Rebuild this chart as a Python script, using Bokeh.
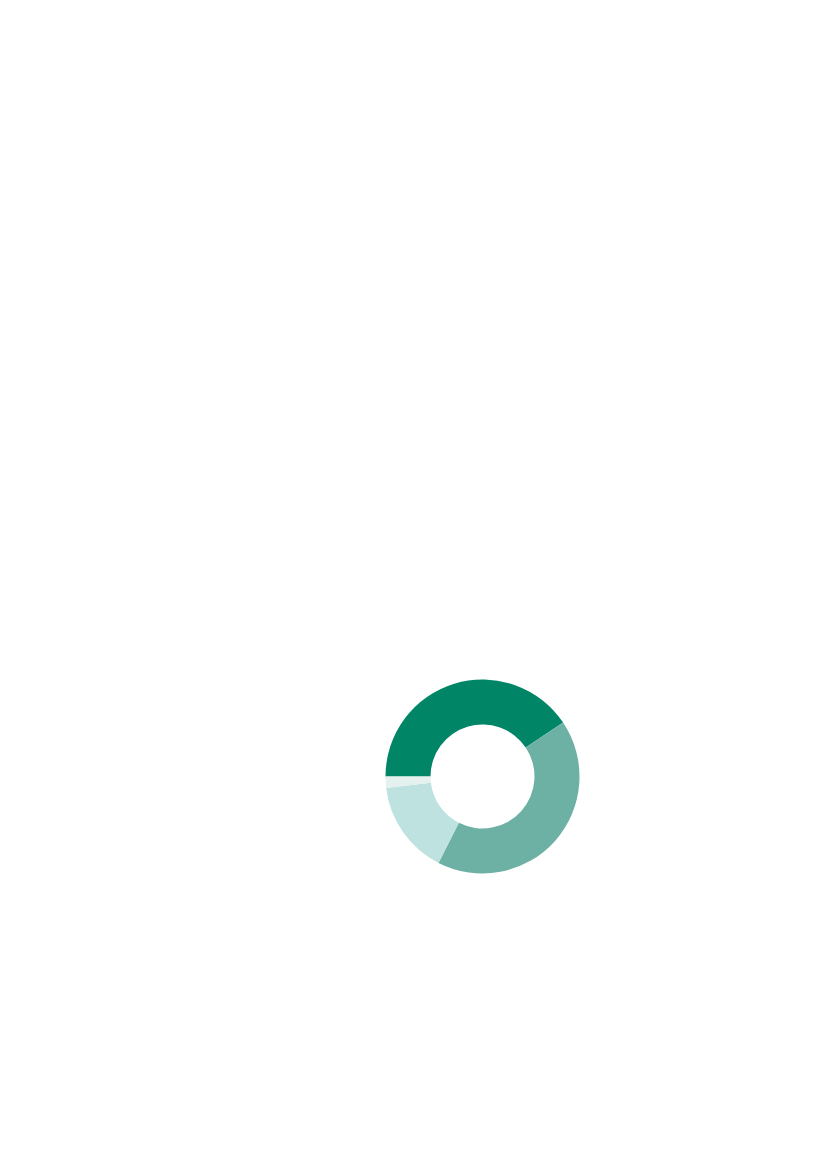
import numpy as np
from bokeh.plotting import figure
from bokeh.models import ColumnDataSource, Range1d
from bokeh.embed import file_html
from bokeh.resources import INLINE

# Data (shares in percent, clockwise from 9 o'clock)
categories = ["Segment 1", "Segment 2", "Segment 3", "Segment 4"]
shares = [40.6, 41.9, 15.6, 1.9]
colors = ["#008566", "#6CB1A4", "#BDE2DF", "#E5F1EE"]

# Layout constants (page pixels)
W, H = 811, 1153
CX, CY_TOP = 482, 776
R_OUT, R_IN = 97, 52

frac = np.array(shares) / sum(shares)
cum = np.concatenate([[0], np.cumsum(frac)])
start = np.pi - cum[:-1] * 2 * np.pi
end = np.pi - cum[1:] * 2 * np.pi

src = ColumnDataSource(dict(cat=categories, start=start, end=end, color=colors,
                            x=[CX] * len(categories), y=[H - CY_TOP] * len(categories)))

p = figure(width=W, height=H, x_range=Range1d(0, W), y_range=Range1d(0, H),
           output_backend="svg", toolbar_location=None, min_border=0)
p.annular_wedge(x="x", y="y", inner_radius=R_IN, outer_radius=R_OUT,
                start_angle="start", end_angle="end", direction="clock",
                fill_color="color", line_color=None, source=src)
p.axis.visible = False
p.grid.visible = False
p.outline_line_color = None
p.background_fill_color = "white"
p.border_fill_color = "white"

open("out.html", "w").write(file_html(p, INLINE))
